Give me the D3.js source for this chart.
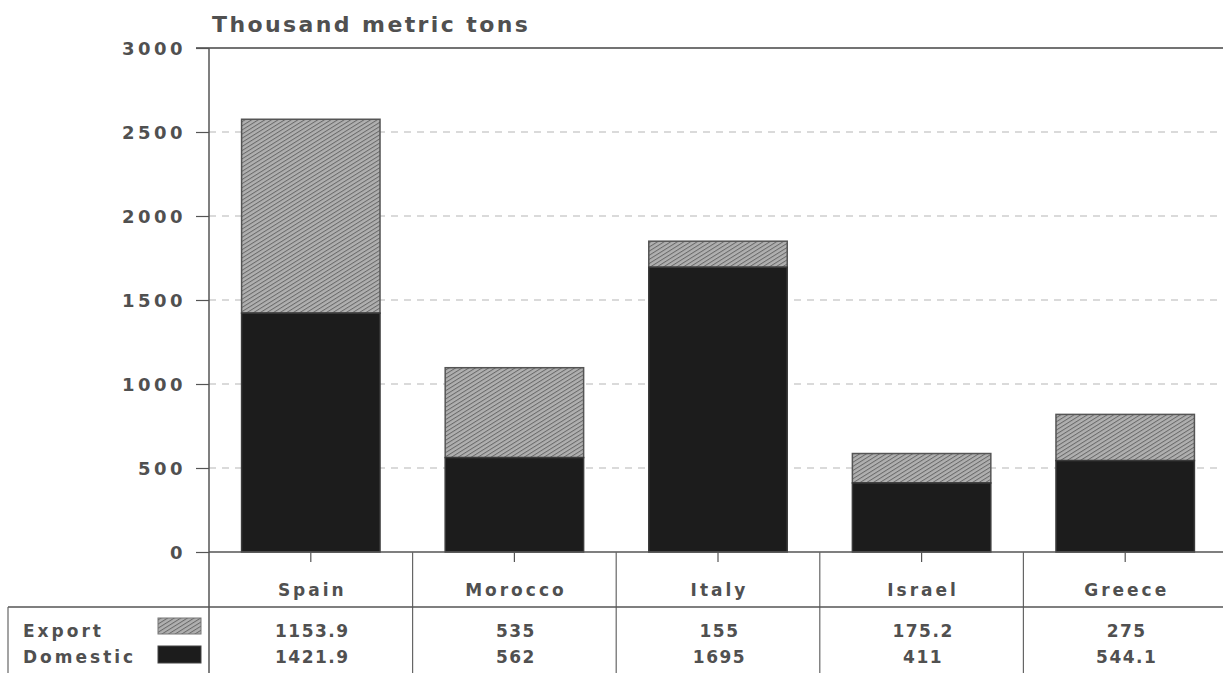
<!DOCTYPE html>
<html><head><meta charset="utf-8">
<script src="https://cdn.jsdelivr.net/npm/d3@7"></script>
<style>
html,body{margin:0;padding:0;background:#fff;}
svg{display:block;}
text{font-family:"DejaVu Sans",sans-serif;font-weight:bold;fill:#505050;}
</style></head>
<body>
<script>
const categories = ["Spain","Morocco","Italy","Israel","Greece"];
const exportVals = [1153.9, 535, 155, 175.2, 275];
const domesticVals = [1421.9, 562, 1695, 411, 544.1];
const exportLabels = ["1153.9","535","155","175.2","275"];
const domesticLabels = ["1421.9","562","1695","411","544.1"];
const yTicks = [0,500,1000,1500,2000,2500,3000];
const seriesNames = ["Export","Domestic"];

const W = 1223, H = 673;
const svg = d3.select("body").append("svg").attr("width", W).attr("height", H);
const defs = svg.append("defs");
const pat = defs.append("pattern").attr("id","hatch").attr("patternUnits","userSpaceOnUse")
  .attr("width",3.5).attr("height",3.5).attr("patternTransform","rotate(-32)");
pat.append("rect").attr("width",3.5).attr("height",3.5).attr("fill","#b0b0b0");
pat.append("line").attr("x1",0).attr("y1",0).attr("x2",3.5).attr("y2",0).attr("stroke","#6a6a6a").attr("stroke-width",2);

const x0 = 209, x1 = 1227, yTop = 48, yBase = 552;
const x = d3.scaleBand().domain(categories).range([x0, x1]).paddingInner(0.32).paddingOuter(0.16);
const y = d3.scaleLinear().domain([0,3000]).range([yBase, yTop]);

// gridlines
svg.append("g").selectAll("line").data(yTicks.filter(t => t>0 && t<3000)).join("line")
  .attr("x1", x0).attr("x2", W).attr("y1", d=>y(d)).attr("y2", d=>y(d))
  .attr("stroke","#b5b5b5").attr("stroke-width",1).attr("stroke-dasharray","7,6");
// top frame line
svg.append("line").attr("x1",x0-13).attr("x2",W).attr("y1",y(3000)).attr("y2",y(3000)).attr("stroke","#444").attr("stroke-width",1.5);

// y axis
const yAxis = d3.axisLeft(y).tickValues(yTicks).tickSize(13).tickPadding(10).tickFormat(d3.format("d"));
const ya = svg.append("g").attr("transform",`translate(${x0},0)`).call(yAxis);
ya.select(".domain").remove();
ya.selectAll(".tick line").attr("stroke","#555").attr("stroke-width",1.2);
ya.selectAll(".tick text").attr("font-size",18).attr("font-family","DejaVu Sans").attr("font-weight","bold")
  .style("letter-spacing","3.5px").style("fill","#505050").attr("dy","0.36em");
svg.append("line").attr("x1",x0).attr("x2",x0).attr("y1",yTop).attr("y2",H).attr("stroke","#555").attr("stroke-width",1.5);

// title
svg.append("text").attr("x",212).attr("y",32).attr("font-size",22).style("letter-spacing","2.4px").text("Thousand metric tons");

// bars
const g = svg.append("g");
categories.forEach((c,i) => {
  const d0 = domesticVals[i], e = exportVals[i];
  g.append("rect").attr("x", x(c)).attr("width", x.bandwidth())
    .attr("y", y(d0+e)).attr("height", y(d0) - y(d0+e))
    .attr("fill","url(#hatch)").attr("stroke","#555").attr("stroke-width",1.5);
  g.append("rect").attr("x", x(c)).attr("width", x.bandwidth())
    .attr("y", y(d0)).attr("height", y(0) - y(d0))
    .attr("fill","#1c1c1c").attr("stroke","#3a3a3a").attr("stroke-width",1.5);
});

// x axis baseline and ticks
svg.append("line").attr("x1",x0).attr("x2",W).attr("y1",yBase).attr("y2",yBase).attr("stroke","#555").attr("stroke-width",1.5);
svg.append("g").selectAll("line").data(categories).join("line")
  .attr("x1", d=>x(d)+x.bandwidth()/2).attr("x2", d=>x(d)+x.bandwidth()/2)
  .attr("y1", yBase).attr("y2", yBase+10).attr("stroke","#555").attr("stroke-width",1.2);

// table
const step = x.step();
const bounds = categories.slice(1).map(c => x(c) - (step - x.bandwidth())/2);
svg.append("g").selectAll("line").data(bounds).join("line")
  .attr("x1", d=>d).attr("x2", d=>d).attr("y1", yBase).attr("y2", H)
  .attr("stroke","#666").attr("stroke-width",1.2);
svg.append("line").attr("x1",8).attr("x2",W).attr("y1",607).attr("y2",607).attr("stroke","#555").attr("stroke-width",1.5);
svg.append("line").attr("x1",8).attr("x2",8).attr("y1",607).attr("y2",H).attr("stroke","#666").attr("stroke-width",1.2);

const cx = d => x(d)+x.bandwidth()/2 + 1.5;
svg.append("g").selectAll("text").data(categories).join("text")
  .attr("x", d=>cx(d)).attr("y", 596).attr("text-anchor","middle").attr("font-size",17)
  .style("letter-spacing","3px").text(d=>d);
svg.append("g").selectAll("text").data(exportLabels).join("text")
  .attr("x", (d,i)=>cx(categories[i])).attr("y", 637).attr("text-anchor","middle").attr("font-size",17)
  .style("letter-spacing","1.5px").text(d=>d);
svg.append("g").selectAll("text").data(domesticLabels).join("text")
  .attr("x", (d,i)=>cx(categories[i])).attr("y", 663).attr("text-anchor","middle").attr("font-size",17)
  .style("letter-spacing","1.5px").text(d=>d);

// legend rows
svg.append("text").attr("x",23).attr("y",637).attr("font-size",17).style("letter-spacing","3px").text(seriesNames[0]);
svg.append("text").attr("x",23).attr("y",663).attr("font-size",17).style("letter-spacing","3px").text(seriesNames[1]);
svg.append("rect").attr("x",158).attr("y",618).attr("width",43).attr("height",16).attr("fill","url(#hatch)").attr("stroke","#777");
svg.append("rect").attr("x",158).attr("y",646).attr("width",43).attr("height",17).attr("fill","#1c1c1c").attr("stroke","#444");
</script>
</body></html>
